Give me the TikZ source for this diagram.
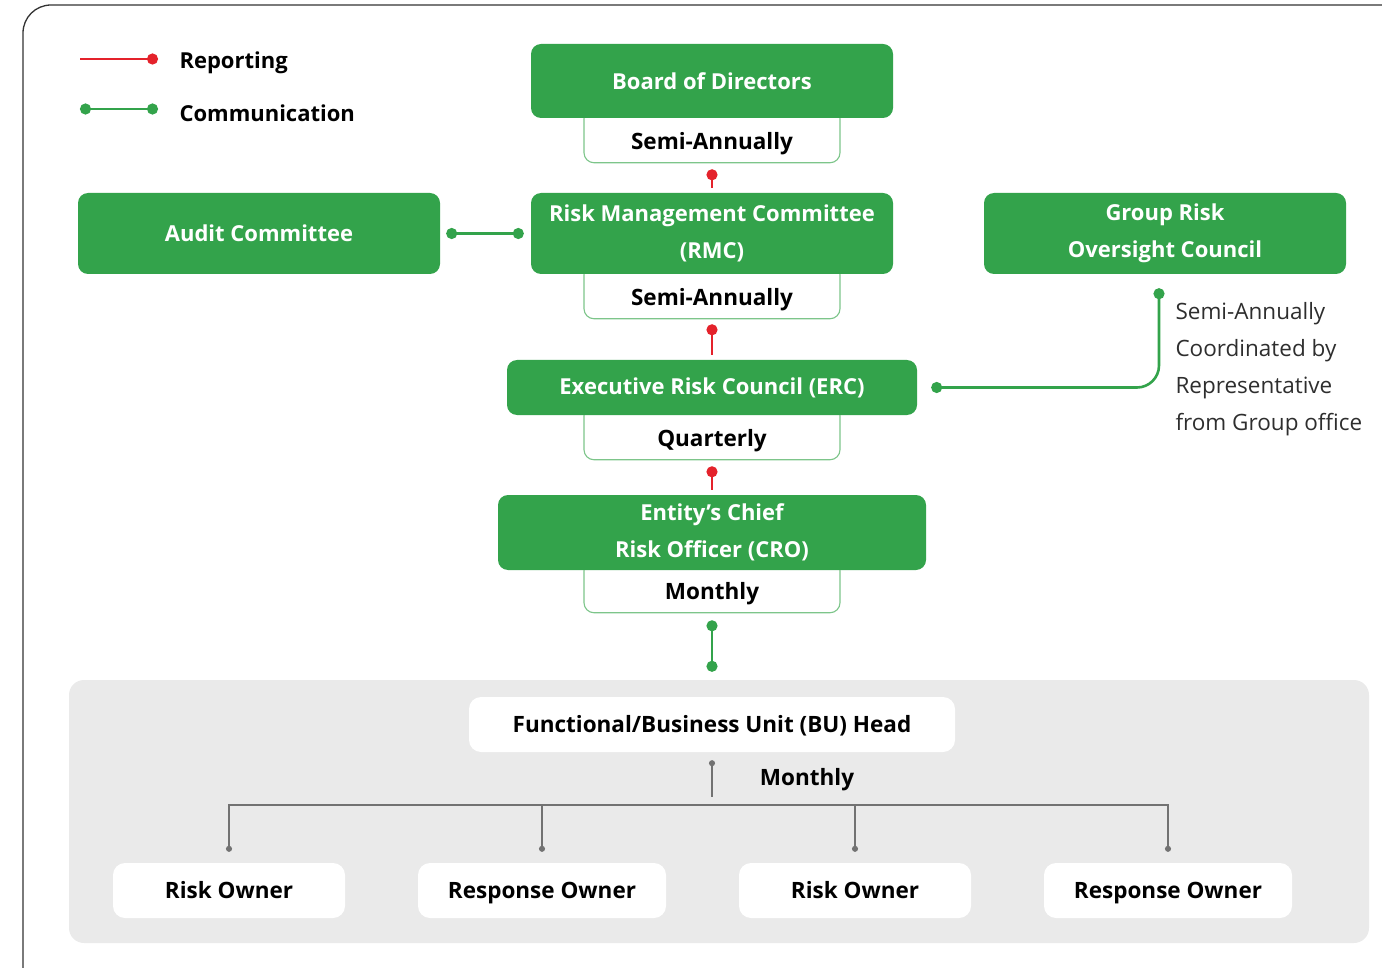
\documentclass[tikz,border=0pt]{standalone}
\usepackage{fontspec}
\setmainfont{Open Sans}
\usetikzlibrary{positioning, arrows.meta, backgrounds, calc}
\definecolor{RiskGreen}{HTML}{33A34B}
\definecolor{RiskRed}{HTML}{E4222B}
\definecolor{TabBorder}{HTML}{7DC58A}
\definecolor{PanelGrey}{HTML}{EAEAEA}
\definecolor{TreeGrey}{HTML}{727272}
\definecolor{NoteText}{HTML}{2E2E2E}
\definecolor{FrameLine}{HTML}{333333}
\tikzset{
    mainbox/.style={rectangle, rounded corners=10pt, fill=RiskGreen, text=white, align=center, font=\fontsize{22}{37}\selectfont\bfseries, inner sep=0pt},
    tabbox/.style={rectangle, rounded corners=10pt, draw=TabBorder, line width=1.1pt, fill=white, minimum width=256pt, inner ysep=0pt, text height=41pt, text depth=13pt, font=\fontsize{22.5}{24}\selectfont\bfseries},
    unitbox/.style={rectangle, rounded corners=12pt, fill=white, text=black, font=\fontsize{22.5}{24}\selectfont\bfseries, minimum height=55pt, inner sep=0pt, text height=35pt, text depth=20pt},
    legendtxt/.style={anchor=west, font=\fontsize{22}{24}\selectfont\bfseries},
    reportline/.style={{Circle[length=11pt]}-, line width=2.6pt, RiskRed},
    commline/.style={{Circle[length=11pt]}-{Circle[length=11pt]}, line width=2.6pt, RiskGreen},
    treeline/.style={line width=1.4pt, TreeGrey}
}
\begin{document}
\begin{tikzpicture}[x=1pt, y=-1pt]
    \useasboundingbox (0,0) rectangle (1382,968);

    % --- OUTER FRAME ---
    \draw[FrameLine, line width=1.3pt, rounded corners=28pt] (23,1010) -- (23,5) -- (1430,5);

    % --- LEGEND ---
    \coordinate (rep0) at (80,59);
    \coordinate (rep1) at (158,59);
    \coordinate (com0) at (80,109);
    \coordinate (com1) at (158,109);
    \draw[reportline] (rep1) -- (rep0);
    \draw[commline] (com0) -- (com1);
    \node[legendtxt] (replab) at (176,63) {Reporting};
    \node[legendtxt] (comlab) at (176,113) {Communication};

    % --- MAIN CHAIN ---
    \node[mainbox, minimum width=362pt, minimum height=74pt] (bod) at (712,81) {Board of Directors};
    \node[mainbox, minimum width=362pt, minimum height=81pt] (rmc) at (712,233.5) {Risk Management Committee\\(RMC)};
    \node[mainbox, minimum width=410pt, minimum height=55pt] (erc) at (712,387.5) {Executive Risk Council (ERC)};
    \node[mainbox, minimum width=428pt, minimum height=75pt] (cro) at (712,532.5) {Entity’s Chief\\Risk Officer (CRO)};

    % --- SIDE BODIES ---
    \node[mainbox, minimum width=362pt, minimum height=81pt] (audit) at (259,233.5) {Audit Committee};
    \node[mainbox, minimum width=362pt, minimum height=81pt] (grc) at (1165,233.5) {Group Risk\\Oversight Council};

    % --- FREQUENCY TABS ---
    \begin{scope}[on background layer]
        \node[tabbox, below=-10pt of bod] (freqbod) {Semi-Annually};
        \node[tabbox, below=-10pt of rmc] (freqrmc) {Semi-Annually};
        \node[tabbox, below=-10pt of erc] (freqerc) {Quarterly};
        \node[tabbox, below=-10pt of cro, text height=39pt] (freqcro) {Monthly};
    \end{scope}

    % --- REPORTING LINES ---
    \draw[reportline, shorten <=6pt, shorten >=5pt] (freqbod.south) -- (rmc.north);
    \draw[reportline, shorten <=5pt, shorten >=5pt] (freqrmc.south) -- (erc.north);
    \draw[reportline, shorten <=6pt, shorten >=5pt] (freqerc.south) -- (cro.north);

    % --- COMMUNICATION LINES ---
    \draw[commline, shorten <=6pt, shorten >=7pt] (audit.east) -- (rmc.west);
    \draw[commline, rounded corners=22pt, shorten <=14pt, shorten >=14pt] ([xshift=-6pt]grc.south) |- (erc.east);
    \node[anchor=north west, align=left, text=NoteText, font=\fontsize{22.5}{37}\selectfont] (grcnote) at (1172,299)
        {Semi-Annually\\Coordinated by\\Representative\\from Group office};

    % --- BUSINESS UNIT PANEL ---
    \fill[PanelGrey, rounded corners=15pt] (69,680) rectangle (1369,943);
    \node[unitbox, minimum width=486pt] (bu) at (712,724.5) {Functional/Business Unit (BU) Head};
    \draw[commline, shorten <=7pt, shorten >=25pt] (freqcro.south) -- (bu.north);

    \node[unitbox, minimum width=232pt] (own1) at (229,890.5) {Risk Owner};
    \node[unitbox, minimum width=248pt] (own2) at (542,890.5) {Response Owner};
    \node[unitbox, minimum width=232pt] (own3) at (855,890.5) {Risk Owner};
    \node[unitbox, minimum width=248pt] (own4) at (1168,890.5) {Response Owner};

    % --- BU TREE ---
    \coordinate (split) at (712,805);
    \draw[treeline, {Circle[length=6pt]}-, shorten <=8pt] (bu.south) -- ([yshift=8pt]split);
    \node[font=\fontsize{22.5}{24}\selectfont\bfseries] (bufreq) at (807,780) {Monthly};
    \foreach \own in {own1, own2, own3, own4}
        \draw[treeline, -{Circle[length=6pt]}, shorten >=11pt] (split) -| (\own.north);

\end{tikzpicture}
\end{document}
